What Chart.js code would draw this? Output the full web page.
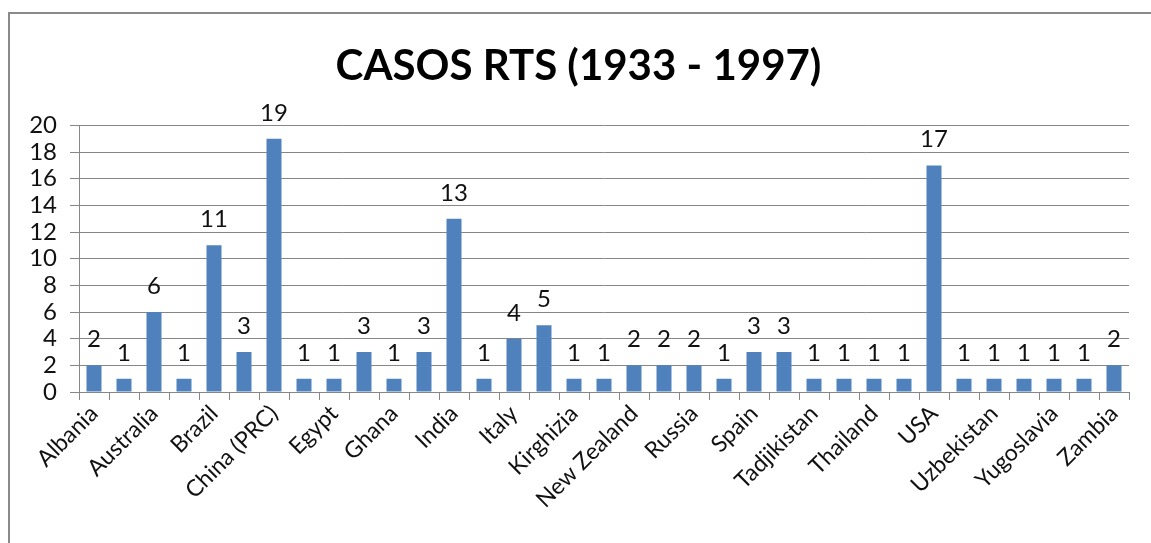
<!DOCTYPE html>
<html>
<head>
<meta charset="utf-8">
<script src="https://cdn.jsdelivr.net/npm/chart.js@4"></script>
<style>
  html, body { margin: 0; padding: 0; background: #fff; overflow: hidden; }
  #frame {
    position: absolute; left: 8px; top: 12px; width: 1200px; height: 600px;
    border-left: 2px solid #8a8a8a; border-top: 2px solid #8a8a8a;
  }
  #wrap { position: absolute; left: 0; top: 0; width: 1151px; height: 543px; }
</style>
</head>
<body>
<div id="frame"></div>
<div id="wrap"><canvas id="casosChart"></canvas></div>
<script>
// only every other country name is readable on the axis
const countries = [
    'Albania', '', 'Australia', '', 'Brazil', '', 'China (PRC)', '', 'Egypt', '',
    'Ghana', '', 'India', '', 'Italy', '', 'Kirghizia', '', 'New Zealand', '',
    'Russia', '', 'Spain', '', 'Tadjikistan', '', 'Thailand', '', 'USA', '',
    'Uzbekistan', '', 'Yugoslavia', '', 'Zambia'
];
const casos = [
    2, 1, 6, 1, 11, 3, 19, 1, 1, 3,
    1, 3, 13, 1, 4, 5, 1, 1, 2, 2,
    2, 1, 3, 3, 1, 1, 1, 1, 17, 1,
    1, 1, 1, 1, 2
];
const yTicks = [0, 2, 4, 6, 8, 10, 12, 14, 16, 18, 20];

const barColor = '#4f81bd';
const gridColor = '#868686';
const textColor = '#111';
const fontFamily = 'Lato, "Open Sans", sans-serif';

const valueLabels = {
    id: 'valueLabels',
    afterDatasetsDraw(chart) {
        const ctx = chart.ctx;
        const meta = chart.getDatasetMeta(0);
        ctx.save();
        ctx.font = '24px ' + fontFamily;
        ctx.fillStyle = textColor;
        ctx.textAlign = 'center';
        ctx.textBaseline = 'alphabetic';
        meta.data.forEach((bar, i) => {
            ctx.fillText(String(casos[i]), bar.x, bar.y - 18);
        });
        ctx.restore();
    }
};

new Chart(document.getElementById('casosChart'), {
    type: 'bar',
    data: {
        labels: countries,
        datasets: [{
            label: 'Casos',
            data: casos,
            backgroundColor: barColor,
            barPercentage: 0.5,
            categoryPercentage: 1.0
        }]
    },
    options: {
        responsive: true,
        maintainAspectRatio: false,
        animation: false,
        layout: { padding: { left: 28, right: 22, top: 0, bottom: 0 } },
        plugins: {
            legend: { display: false },
            tooltip: { enabled: false },
            title: {
                display: true,
                text: 'CASOS RTS (1933 - 1997)',
                color: '#000',
                font: { family: fontFamily, size: 42, weight: 'bold', lineHeight: 1.2 },
                padding: { top: 41, bottom: 34 }
            }
        },
        scales: {
            x: {
                offset: true,
                grid: {
                    offset: true,
                    drawOnChartArea: false,
                    drawTicks: true,
                    tickLength: 8,
                    color: gridColor
                },
                border: { color: gridColor },
                ticks: {
                    autoSkip: false,
                    maxRotation: 45,
                    minRotation: 45,
                    padding: 0,
                    color: textColor,
                    font: { family: fontFamily, size: 23 }
                },
                afterFit(scale) { scale.height = 151; }
            },
            y: {
                min: 0,
                max: 20,
                afterBuildTicks(scale) { scale.ticks = yTicks.map(v => ({ value: v })); },
                grid: { color: gridColor, tickLength: 9 },
                border: { color: gridColor },
                ticks: {
                    autoSkip: false,
                    padding: 13,
                    color: textColor,
                    font: { family: fontFamily, size: 24 }
                },
                afterFit(scale) { scale.width = 51; }
            }
        }
    },
    plugins: [valueLabels]
});
</script>
</body>
</html>
